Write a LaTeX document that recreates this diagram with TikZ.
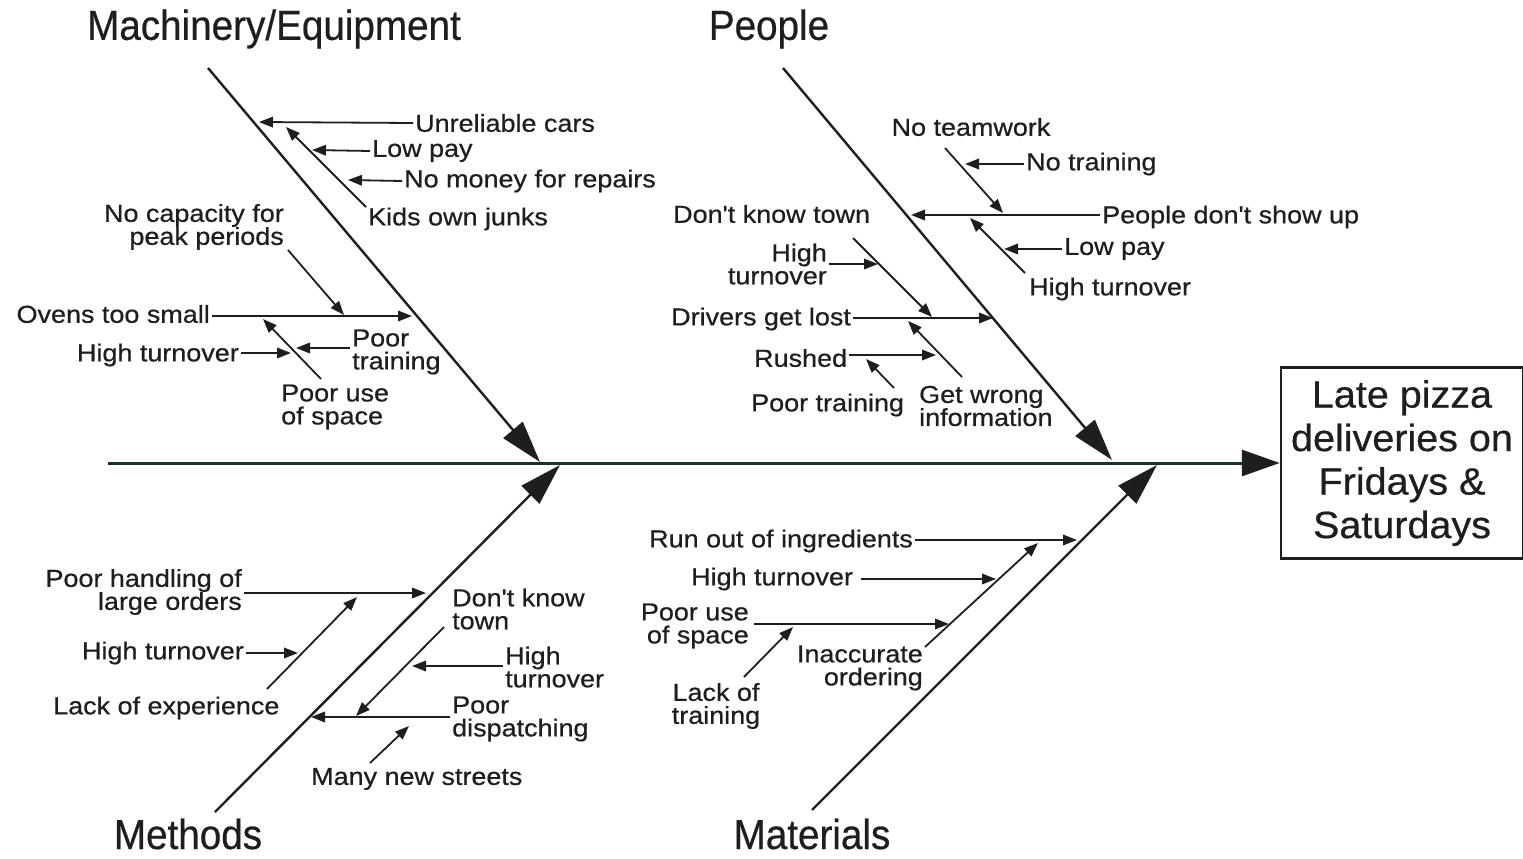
\documentclass[tikz,border=0pt]{standalone}
\usepackage{fontspec}
\setmainfont{Liberation Sans}
\newfontfamily\labfont{Liberation Sans}[FakeStretch=1.1,FakeBold=0.6]
\newfontfamily\ttlfont{Liberation Sans}[FakeStretch=0.92,FakeBold=0.5]
\newfontfamily\boxfont{Liberation Sans}[FakeStretch=1.04,FakeBold=0.5]
\usetikzlibrary{arrows.meta}
\definecolor{ink}{RGB}{30,30,30}
\definecolor{spinecol}{RGB}{28,48,48}
\tikzset{
  lab/.style={font=\labfont\fontsize{24.5}{23}\selectfont, inner sep=2pt, text=ink},
  labl/.style={lab, align=left},
  labr/.style={lab, align=right},
  labc/.style={lab, align=center},
  ttl/.style={font=\ttlfont\fontsize{42}{48}\selectfont, inner sep=0pt, text=ink},
  sub/.style={draw=ink, line width=1.8pt, -{Triangle[length=14pt,width=10.5pt]}},
  bone/.style={draw=ink, line width=2.4pt, -{Triangle[length=42pt,width=25pt]}},
  spine/.style={draw=spinecol, line width=3pt, -{Triangle[length=38pt,width=26pt,color=ink,fill=ink]}},
}
\begin{document}
\begin{tikzpicture}[x=1pt, y=-1pt]
\useasboundingbox (0,0) rectangle (1523,859);

% ---------- effect box and spine ----------
\node[draw=ink, line width=2.5pt, minimum width=242pt, minimum height=191pt, inner sep=0pt,
      align=center, font=\boxfont\fontsize{38}{43.5}\selectfont, text=ink] (box) at (1402,463)
      {Late pizza\\deliveries on\\Fridays \&\\Saturdays};
\coordinate (spL) at (108,463);
\draw[spine] (spL) -- (box.west);

% ---------- titles ----------
\node[ttl] (tMach) at (274,29) {Machinery/Equipment};
\node[ttl] (tPeop) at (769,29) {People};
\node[ttl] (tMeth) at (188,834) {Methods};
\node[ttl] (tMat)  at (812,834) {Materials};

% ---------- main bones ----------
\coordinate (mTop) at (208,68);   \coordinate (mTip) at (540,462);
\coordinate (pTop) at (783,68);   \coordinate (pTip) at (1112,460);
\coordinate (meBot) at (215,812); \coordinate (meTip) at (560,465);
\coordinate (maBot) at (812,810); \coordinate (maTip) at (1157,465);
\draw[bone] (mTop) -- (mTip);
\draw[bone] (pTop) -- (pTip);
\draw[bone] (meBot) -- (meTip);
\draw[bone] (maBot) -- (maTip);

% ---------- Machinery / Equipment ----------
\node[lab, anchor=west] (mUnrel) at (413,123) {Unreliable cars};
\node[lab, anchor=west] (mLow) at (370,151) {Low pay};
\node[lab, anchor=west] (mNoMoney) at (402,181) {No money for repairs};
\node[lab, anchor=west] (mKids) at (366,219) {Kids own junks};
\node[labr, anchor=east] (mCap) at (286,227) {No capacity for\\peak periods};
\node[lab, anchor=east] (mOvens) at (212,314) {Ovens too small};
\node[lab, anchor=east] (mHigh) at (241,355) {High turnover};
\node[labl, anchor=west] (mTrain) at (350,352) {Poor\\training};
\node[labl, anchor=west] (mSpace) at (279,407) {Poor use\\of space};

\coordinate (mA1) at (259,122);
\coordinate (mKs) at (366,207); \coordinate (mKe) at (286,127);
\coordinate (mA2) at (312,150);
\coordinate (mA3) at (348,180);
\coordinate (mCs) at (288,250); \coordinate (mCe) at (344,315);
\coordinate (mA4) at (412,316);
\coordinate (mSs) at (321,379); \coordinate (mSe) at (263,319);
\coordinate (mA5) at (291,353);
\coordinate (mA6) at (296,348);

\draw[sub] (mUnrel.west) -- (mA1);
\draw[sub] (mKs) -- (mKe);
\draw[sub] (mLow.west) -- (mA2);
\draw[sub] (mNoMoney.west) -- (mA3);
\draw[sub] (mCs) -- (mCe);
\draw[sub] (mOvens.east |- mA4) -- (mA4);
\draw[sub] (mSs) -- (mSe);
\draw[sub] (mHigh.east |- mA5) -- (mA5);
\draw[sub] (mTrain.west |- mA6) -- (mA6);

% ---------- People ----------
\node[lab] (pTeam) at (971,127) {No teamwork};
\node[lab, anchor=west] (pNoTr) at (1024,164) {No training};
\node[lab, anchor=west] (pShow) at (1100,217) {People don't show up};
\node[lab, anchor=west] (pTown) at (671,214) {Don't know town};
\node[lab, anchor=west] (pLow) at (1062,249) {Low pay};
\node[lab, anchor=west] (pHigh) at (1027,289) {High turnover};
\node[labr, anchor=east] (pHigh2) at (829,264) {High\\turnover};
\node[lab, anchor=west] (pLost) at (669,319) {Drivers get lost};
\node[labl, anchor=west] (pWrong) at (917,406) {Get wrong\\information};
\node[lab, anchor=west] (pRush) at (752,358) {Rushed};
\node[lab, anchor=west] (pPoorTr) at (749,405) {Poor training};

\coordinate (pTs) at (945,148); \coordinate (pTe) at (1003,213);
\coordinate (pA1) at (965,164);
\coordinate (pA2) at (911,215);
\coordinate (pA3) at (1004,249);
\coordinate (pHs) at (1025,273); \coordinate (pHe) at (970,218);
\coordinate (pLs) at (853,238); \coordinate (pLe) at (932,317);
\coordinate (pA4) at (878,264);
\coordinate (pA5) at (993,318);
\coordinate (pWs) at (962,377); \coordinate (pWe) at (908,321);
\coordinate (pA6) at (936,355);
\coordinate (pPs) at (894,388); \coordinate (pPe) at (866,359);

\draw[sub] (pTs) -- (pTe);
\draw[sub] (pNoTr.west |- pA1) -- (pA1);
\draw[sub] (pShow.west |- pA2) -- (pA2);
\draw[sub] (pLow.west |- pA3) -- (pA3);
\draw[sub] (pHs) -- (pHe);
\draw[sub] (pLs) -- (pLe);
\draw[sub] (pHigh2.east |- pA4) -- (pA4);
\draw[sub] (pLost.east |- pA5) -- (pA5);
\draw[sub] (pWs) -- (pWe);
\draw[sub] (pRush.east |- pA6) -- (pA6);
\draw[sub] (pPs) -- (pPe);

% ---------- Methods ----------
\node[labr, anchor=east] (meHand) at (244,592) {Poor handling of\\large orders};
\node[lab, anchor=east] (meHigh) at (246,653) {High turnover};
\node[lab, anchor=west] (meExp) at (51,708) {Lack of experience};
\node[labl, anchor=west] (meTown) at (450,609) {Don't know\\town};
\node[labl, anchor=west] (meHigh2) at (503,667) {High\\turnover};
\node[labl, anchor=west] (meDisp) at (450,719) {Poor\\dispatching};
\node[lab, anchor=west] (meStreets) at (309,779) {Many new streets};

\coordinate (meA1) at (426,593);
\coordinate (meEs) at (267,689); \coordinate (meEe) at (357,597);
\coordinate (meA2) at (298,653);
\coordinate (meTs) at (444,627); \coordinate (meTe) at (356,716);
\coordinate (meA3) at (412,666);
\coordinate (meA4) at (311,717);
\coordinate (meSs) at (370,763); \coordinate (meSe) at (409,726);

\draw[sub] (meHand.east |- meA1) -- (meA1);
\draw[sub] (meEs) -- (meEe);
\draw[sub] (meHigh.east |- meA2) -- (meA2);
\draw[sub] (meTs) -- (meTe);
\draw[sub] (meHigh2.west |- meA3) -- (meA3);
\draw[sub] (meDisp.west |- meA4) -- (meA4);
\draw[sub] (meSs) -- (meSe);

% ---------- Materials ----------
\node[lab, anchor=west] (maRun) at (647,541) {Run out of ingredients};
\node[lab, anchor=west] (maHigh) at (689,579) {High turnover};
\node[labr, anchor=east] (maSpace) at (751,626) {Poor use\\of space};
\node[labr, anchor=east] (maInacc) at (925,668) {Inaccurate\\ordering};
\node[labc] (maTrain) at (716,706) {Lack of\\training};

\coordinate (maA1) at (1077,540);
\coordinate (maIs) at (925,647); \coordinate (maIe) at (1038,543);
\coordinate (maA2) at (996,579);
\coordinate (maA3) at (949,624);
\coordinate (maTs) at (744,677); \coordinate (maTe) at (793,627);

\draw[sub] (maRun.east |- maA1) -- (maA1);
\draw[sub] (maIs) -- (maIe);
\draw[sub] ([xshift=6pt]maHigh.east |- maA2) -- (maA2);
\draw[sub] ([xshift=3pt]maSpace.east |- maA3) -- (maA3);
\draw[sub] (maTs) -- (maTe);
\end{tikzpicture}
\end{document}
